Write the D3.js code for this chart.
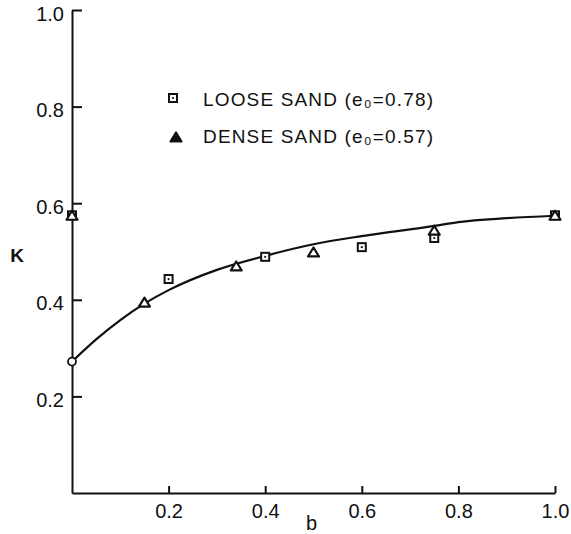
<!DOCTYPE html>
<html><head><meta charset="utf-8">
<script src="https://cdn.jsdelivr.net/npm/d3@7"></script>
<style>
body{margin:0;background:#fff;}
text{font-family:"Liberation Sans",Arial,sans-serif;fill:#111;}
</style></head>
<body><svg id="chart" width="571" height="534"></svg>
<script>
// Data
const xTicks = [0.2, 0.4, 0.6, 0.8, 1.0];
const yTicks = [0.2, 0.4, 0.6, 0.8, 1.0];
const looseB = [0, 0.2, 0.4, 0.6, 0.75, 1.0];
const looseK = [0.575, 0.443, 0.489, 0.509, 0.528, 0.575];
const denseB = [0, 0.15, 0.34, 0.5, 0.75, 1.0];
const denseK = [0.573, 0.393, 0.468, 0.497, 0.542, 0.573];
const curveB = [0, 0.05, 0.1, 0.15, 0.2, 0.3, 0.4, 0.5, 0.6, 0.75, 0.8, 0.9, 1.0];
const curveK = [0.272, 0.318, 0.358, 0.392, 0.42, 0.462, 0.491, 0.515, 0.532, 0.553, 0.561, 0.569, 0.574];
const legendLabels = ["LOOSE SAND (e\u2080=0.78)", "DENSE SAND (e\u2080=0.57)"];

const svg = d3.select("#chart");
const x = d3.scaleLinear().domain([0, 1]).range([72, 555]);
const y = d3.scaleLinear().domain([0, 1]).range([493, 10]);

// Axes
const yAxis = d3.axisLeft(y).tickValues(yTicks).tickFormat(d3.format(".1f"))
  .tickSizeInner(-10).tickSizeOuter(0).tickPadding(8);
const gy = svg.append("g").attr("transform", `translate(${x(0)},0)`).call(yAxis);
const xAxis = d3.axisBottom(x).tickValues(xTicks).tickFormat(d3.format(".1f"))
  .tickSizeInner(-7).tickSizeOuter(0).tickPadding(11);
const gx = svg.append("g").attr("transform", `translate(0,${y(0)})`).call(xAxis);
[gx, gy].forEach(g => {
  g.select(".domain").attr("stroke", "#111").attr("stroke-width", 2);
  g.selectAll(".tick line").attr("stroke", "#111").attr("stroke-width", 2);
  g.selectAll(".tick text").style("font-size", "20px").attr("fill", "#111")
    .style("font-family", "'Liberation Sans',Arial,sans-serif");
});
gy.selectAll(".tick text").attr("dy", "0.5em");

// Axis labels
svg.append("text").attr("x", x(0.5) - 2).attr("y", 530).attr("text-anchor", "middle")
  .style("font-size", "20px").text("b");
svg.append("text").attr("x", 17).attr("y", 262).attr("text-anchor", "middle")
  .style("font-size", "19px").style("font-weight", "bold").text("K");

// Curve
const line = d3.line().x(d => x(d[0])).y(d => y(d[1])).curve(d3.curveMonotoneX);
svg.append("path").datum(curveB.map((b, i) => [b, curveK[i]]))
  .attr("d", line).attr("fill", "none").attr("stroke", "#111").attr("stroke-width", 2.2);

// Open circle at b=0
svg.append("circle").attr("cx", x(curveB[0])).attr("cy", y(curveK[0])).attr("r", 4)
  .attr("fill", "#fff").attr("stroke", "#111").attr("stroke-width", 1.8);

// Markers
function square(g, cx, cy, s) {
  g.append("rect").attr("x", cx - s / 2).attr("y", cy - s / 2).attr("width", s).attr("height", s)
    .attr("fill", "#fff").attr("stroke", "#111").attr("stroke-width", 2);
  g.append("circle").attr("cx", cx).attr("cy", cy).attr("r", 1.1).attr("fill", "#111");
}
function triangle(g, cx, cy, w, h, filled) {
  const p = `M${cx - w / 2},${cy + h / 2}L${cx},${cy - h / 2}L${cx + w / 2},${cy + h / 2}Z`;
  g.append("path").attr("d", p).attr("fill", filled ? "#111" : "#fff")
    .attr("stroke", "#111").attr("stroke-width", 2.2).attr("stroke-linejoin", "round");
}
const marks = svg.append("g");
looseB.forEach((b, i) => square(marks, x(b), y(looseK[i]), 8));
denseB.forEach((b, i) => triangle(marks, x(b), y(denseK[i]) - 1, 11, 9, false));

// Legend
const lg = svg.append("g");
square(lg, 173, 98, 8);
triangle(lg, 176, 137, 11, 9, true);
lg.append("text").attr("x", 203).attr("y", 106).style("font-size", "19px")
  .attr("textLength", 230).attr("lengthAdjust", "spacing").text(legendLabels[0]);
lg.append("text").attr("x", 203).attr("y", 143).style("font-size", "19px")
  .attr("textLength", 230).attr("lengthAdjust", "spacing").text(legendLabels[1]);
</script></body></html>
